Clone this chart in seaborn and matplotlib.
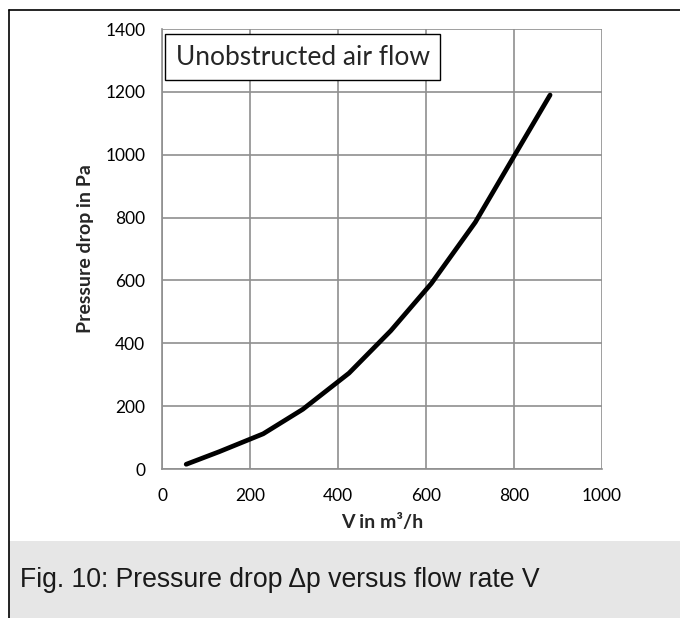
import matplotlib
matplotlib.use("Agg")
import matplotlib.pyplot as plt
from matplotlib.lines import Line2D
from matplotlib.patches import Rectangle
import seaborn as sns
import pandas as pd

# values
flow_rate = [55, 130, 230, 320, 425, 520, 612, 712, 800, 882]
pressure_drop = [15, 55, 112, 190, 305, 440, 590, 785, 995, 1190]

x_ticks = [0, 200, 400, 600, 800, 1000]
y_ticks = [0, 200, 400, 600, 800, 1000, 1200, 1400]

x_label = "V in m³/h"
y_label = "Pressure drop in Pa"
box_text = "Unobstructed air flow"
caption = "Fig. 10: Pressure drop \u0394p versus flow rate V"

df = pd.DataFrame({"flow": flow_rate, "dp": pressure_drop})

sns.set_style("white")
plt.rcParams["font.family"] = ["Lato", "DejaVu Sans"]

grid_col = "#8f8f8f"

fig = plt.figure(figsize=(6.8, 6.18), dpi=100)
ax = fig.add_axes([162 / 680, 149 / 618, 440 / 680, 440 / 618])

sns.lineplot(data=df, x="flow", y="dp", ax=ax, color="black",
             linewidth=3.4, solid_capstyle="round", zorder=5)

ax.set_xlim(0, 1000)
ax.set_ylim(0, 1400)
ax.set_xticks(x_ticks)
ax.set_yticks(y_ticks)
ax.tick_params(axis="both", labelsize=12.5, colors=grid_col, labelcolor="black",
               length=6, width=1.2, direction="out")
ax.tick_params(axis="x", pad=8)
ax.tick_params(axis="y", pad=6)
ax.grid(True, color=grid_col, linewidth=1.2)
for side in ["top", "right"]:
    ax.spines[side].set_visible(False)
for side in ["left", "bottom"]:
    ax.spines[side].set_color(grid_col)
    ax.spines[side].set_linewidth(1.2)

ax.set_xlabel(x_label, fontsize=14, fontweight="bold", labelpad=7)
ax.set_ylabel(y_label, fontsize=14, fontweight="bold", labelpad=8)

ax.text(0.031, 0.9645, box_text, transform=ax.transAxes, fontsize=19,
        ha="left", va="top", zorder=6,
        bbox=dict(boxstyle="square,pad=0.4", facecolor="white",
                  edgecolor="black", linewidth=1.0))

# frame and caption band
fig.add_artist(Rectangle((9 / 680, 0), 1, 77 / 618, transform=fig.transFigure,
                         facecolor="#e6e6e6", edgecolor="none", zorder=0))
fig.add_artist(Line2D([9 / 680, 1], [1 - 10 / 618, 1 - 10 / 618],
                      transform=fig.transFigure, color="black", linewidth=1.2))
fig.add_artist(Line2D([9 / 680, 9 / 680], [0, 1 - 10 / 618],
                      transform=fig.transFigure, color="black", linewidth=1.2))
fig.text(20 / 680, 1 - 580 / 618, caption, fontsize=19.2, va="center", ha="left",
         family=["Liberation Sans", "DejaVu Sans"], color="#1a1a1a")

fig.savefig("out.png", dpi=100)
